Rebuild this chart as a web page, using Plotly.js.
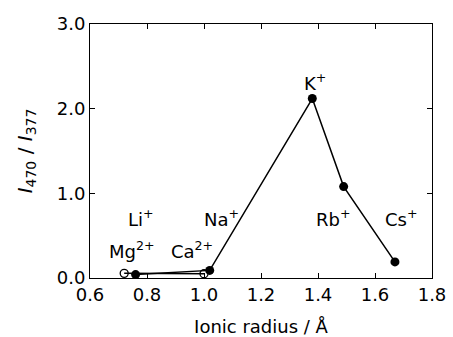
<!DOCTYPE html>
<html><head><meta charset="utf-8">
<script src="https://cdn.plot.ly/plotly-3.0.1.min.js"></script>
<style>html,body{margin:0;padding:0;background:#fff}#c{width:453px;height:337px}</style>
</head><body><div id="c"></div>
<script>
const alkaliIons = ["Li<sup>+</sup>", "Na<sup>+</sup>", "K<sup>+</sup>", "Rb<sup>+</sup>", "Cs<sup>+</sup>"];
const alkaliRadius = [0.76, 1.02, 1.38, 1.49, 1.67];
const alkaliRatio = [0.04, 0.09, 2.12, 1.08, 0.19];
const earthIons = ["Mg<sup>2+</sup>", "Ca<sup>2+</sup>"];
const earthRadius = [0.72, 1.00];
const earthRatio = [0.055, 0.05];
const xTicks = [0.6, 0.8, 1.0, 1.2, 1.4, 1.6, 1.8];
const yTicks = [0, 1, 2, 3];

const alkaliShift = [[5, 57], [12, 52], [3, 17], [-10, -31], [7, 44]];
const earthShift = [[8, 23], [-12, 24]];

const ann = [];
alkaliIons.forEach((t, i) => ann.push({x: alkaliRadius[i], y: alkaliRatio[i], text: t, showarrow: false,
  xshift: alkaliShift[i][0], yshift: alkaliShift[i][1], font: {size: 18, color: '#000'}}));
earthIons.forEach((t, i) => ann.push({x: earthRadius[i], y: earthRatio[i], text: t, showarrow: false,
  xshift: earthShift[i][0], yshift: earthShift[i][1], font: {size: 18, color: '#000'}}));

const data = [
  {x: earthRadius, y: earthRatio, mode: 'lines+markers', type: 'scatter',
   line: {color: '#000', width: 1.5},
   marker: {symbol: 'circle-open', size: 8, color: '#000', line: {width: 1.3, color: '#000'}}},
  {x: alkaliRadius, y: alkaliRatio, mode: 'lines+markers', type: 'scatter',
   line: {color: '#000', width: 1.5},
   marker: {symbol: 'circle', size: 9, color: '#000'}}
];
const axisCommon = {showline: true, linecolor: '#000', linewidth: 1, mirror: 'ticks', ticks: 'inside',
  ticklen: 5, tickcolor: '#000', showgrid: false, zeroline: false, tickfont: {size: 18, color: '#000'}};
const layout = {
  width: 453, height: 337, margin: {l: 90, r: 21, t: 24, b: 59},
  paper_bgcolor: '#fff', plot_bgcolor: '#fff', showlegend: false,
  font: {family: 'DejaVu Sans, sans-serif', color: '#000'},
  xaxis: Object.assign({}, axisCommon, {range: [0.6, 1.8], tickvals: xTicks, tickformat: '.1f',
    title: {text: 'Ionic radius / Å', font: {size: 18}, standoff: 16}}),
  yaxis: Object.assign({}, axisCommon, {range: [0, 3], tickvals: yTicks, tickformat: '.1f',
    title: {text: '<i>I</i><sub>470</sub> / <i>I</i><sub>377</sub>', font: {size: 20}, standoff: 18}}),
  annotations: ann
};
Plotly.newPlot('c', data, layout, {displayModeBar: false, staticPlot: true});
</script></body></html>
